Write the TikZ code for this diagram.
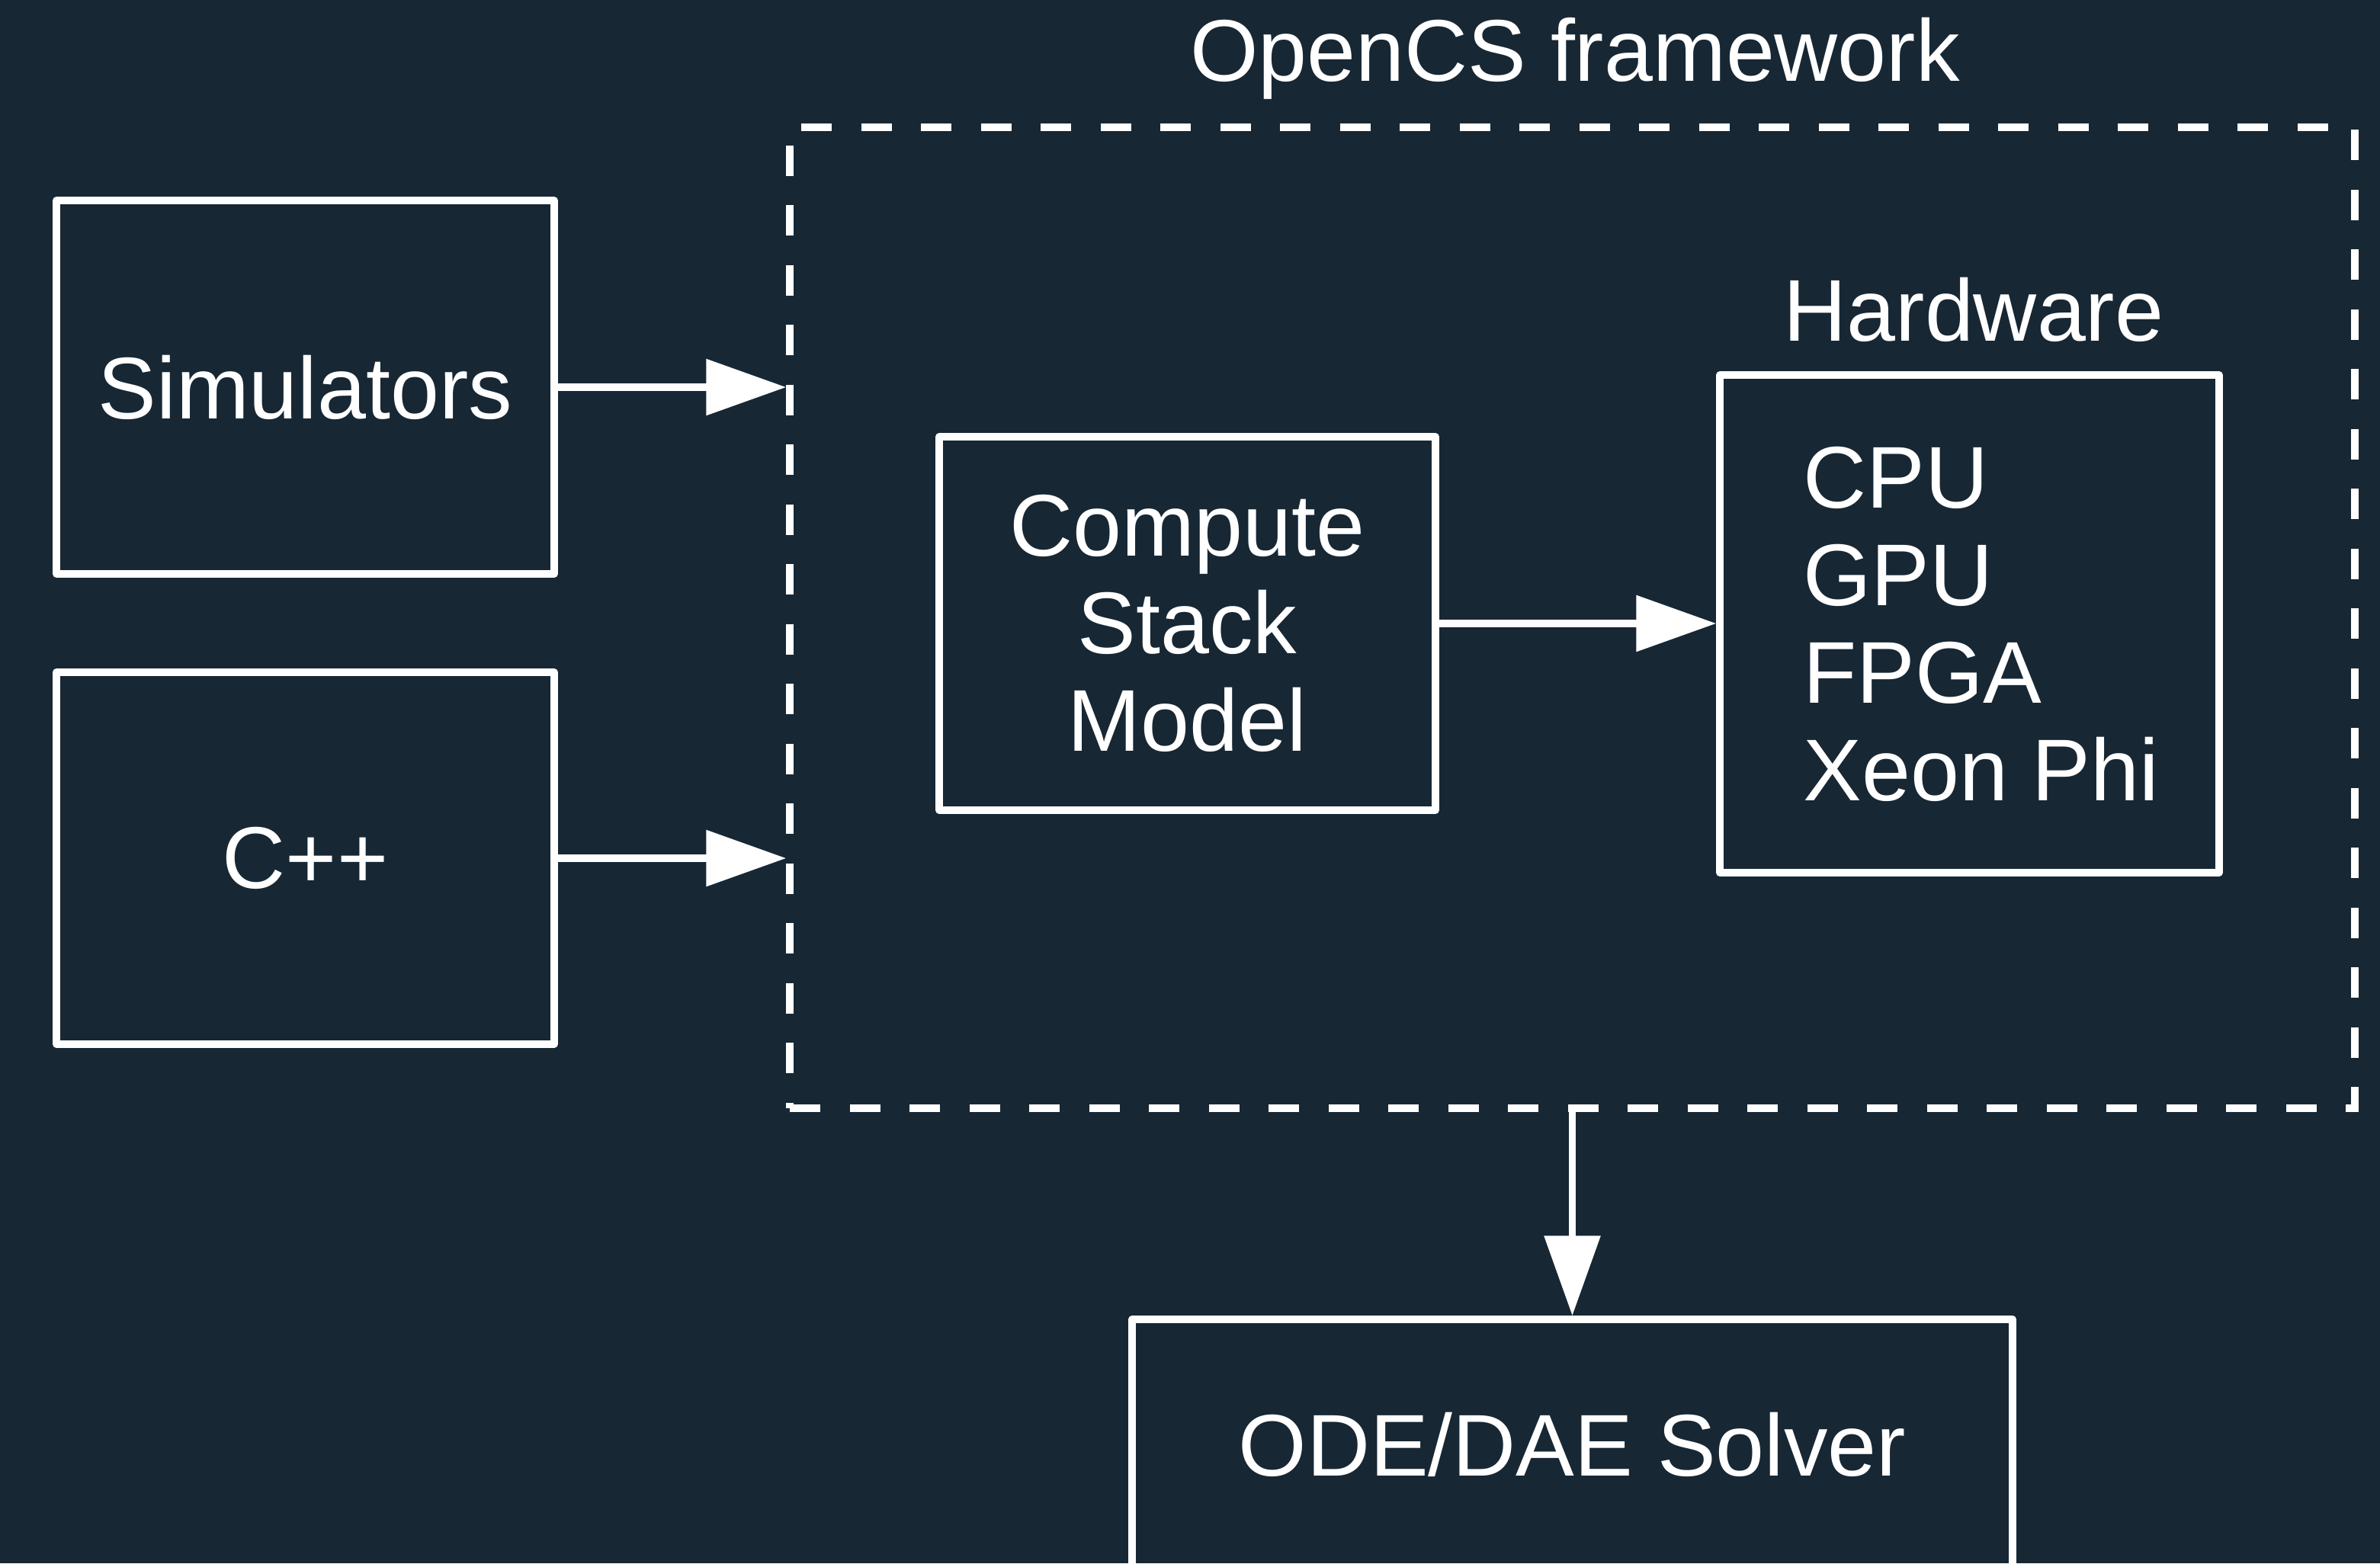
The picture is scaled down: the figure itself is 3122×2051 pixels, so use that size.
\documentclass[tikz,border=0pt]{standalone}
\usepackage{fontspec}
\setmainfont{Liberation Sans}
\usetikzlibrary{arrows.meta,calc}
\definecolor{bgnavy}{HTML}{172734}

\begin{document}
\begin{tikzpicture}[x=1pt,y=-1pt,
  every node/.style={text=white, font=\fontsize{115}{128}\selectfont},
  box/.style={draw=white, line width=9.5pt, line join=round, inner sep=0pt, align=center},
  frame/.style={draw=white, line width=9.5pt, dash pattern=on 40pt off 38.5pt, inner sep=0pt},
  conn/.style={draw=white, line width=9.5pt, -{Triangle[length=105pt,width=72pt]}},
  lbl/.style={inner sep=0pt}
]
% canvas
\useasboundingbox (0,0) rectangle (3122,2051);
\fill[bgnavy] (0,0) rectangle (3122,2051);

% inputs
\node[box, minimum width=653pt, minimum height=490pt] (sim) at (400.5,508) {Simulators};
\node[box, minimum width=653pt, minimum height=488pt] (cpp) at (400.5,1126) {C++};

% framework frame and its title
\node[frame, minimum width=2053pt, minimum height=1287pt] (fw) at (2062.5,810.5) {};
\node[lbl, anchor=base] (title) at (2066,106) {OpenCS framework};

% inside the framework
\node[box, minimum width=651pt, minimum height=490pt] (csm) at (1557.5,818) {Compute\\Stack\\Model};
\node[box, minimum width=655pt, minimum height=653pt] (hw) at (2583.5,818.5) {};
\node[lbl, anchor=base] (hwlabel) at (2589,447) {Hardware};
\node[lbl, anchor=west, align=left] (hwlist) at ($(hw.west)+(114,0)$) {CPU\\GPU\\FPGA\\Xeon Phi};

% output
\node[box, minimum width=1155pt, minimum height=328pt] (solver) at (2062.5,1895) {ODE/DAE Solver};

% connectors
\draw[conn] (sim.east) -- (sim.east -| fw.west);
\draw[conn] (cpp.east) -- (cpp.east -| fw.west);
\draw[conn] (csm.east) -- (csm.east -| hw.west);
\draw[conn] (fw.south) -- (solver.north);
\end{tikzpicture}
\end{document}
